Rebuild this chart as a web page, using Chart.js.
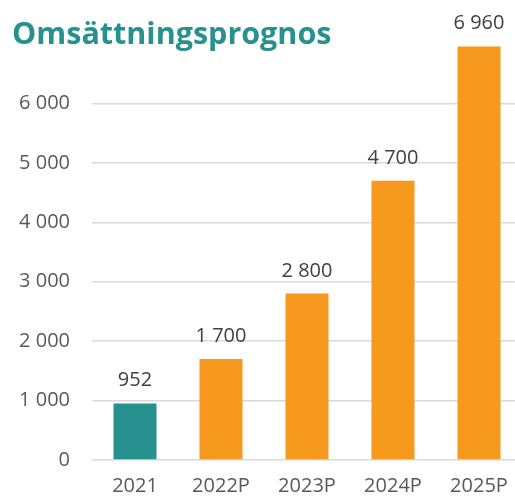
<!DOCTYPE html>
<html>
<head>
<meta charset="utf-8">
<script src="https://cdn.jsdelivr.net/npm/chart.js@4"></script>
<style>
  html, body { margin: 0; padding: 0; background: #fff; overflow: hidden; }
  #wrap { position: relative; width: 515px; height: 500px; overflow: hidden; }
  #title {
    position: absolute; left: 12px; top: 12px;
    font-family: "Open Sans", sans-serif; font-weight: 700; font-size: 30.5px;
    line-height: 1.362; color: #26918f; z-index: 2; white-space: nowrap;
  }
  #chart { position: absolute; left: 0; top: 0; }
</style>
</head>
<body>
<div id="wrap">
  <div id="title">Omsättningsprognos</div>
  <canvas id="chart" width="522" height="500"></canvas>
</div>
<script>
// data --------
const years = ["2021", "2022P", "2023P", "2024P", "2025P"];
const revenue = [952, 1700, 2800, 4700, 6960];
const barColors = ["#26918f", "#f7981f", "#f7981f", "#f7981f", "#f7981f"];
const yTicks = [0, 1000, 2000, 3000, 4000, 5000, 6000];

const fmt = (v) => String(v).replace(/\B(?=(\d{3})+(?!\d))/g, " ");

// value labels above bars
const valueLabels = {
    id: "valueLabels",
    afterDatasetsDraw(chart) {
        const ctx = chart.ctx;
        const meta = chart.getDatasetMeta(0);
        ctx.save();
        ctx.font = "20px 'Open Sans', sans-serif";
        ctx.fillStyle = "#404040";
        ctx.textAlign = "center";
        ctx.textBaseline = "alphabetic";
        meta.data.forEach((bar, i) => {
            ctx.fillText(fmt(revenue[i]), bar.x, bar.y - 17);
        });
        ctx.restore();
    },
};

new Chart(document.getElementById("chart"), {
    type: "bar",
    data: {
        labels: years,
        datasets: [
            {
                data: revenue,
                backgroundColor: barColors,
                borderWidth: 0,
                barPercentage: 0.5,
                categoryPercentage: 1,
            },
        ],
    },
    options: {
        responsive: false,
        animation: false,
        devicePixelRatio: 1,
        layout: { padding: { top: 44, right: 0, left: 0, bottom: 0 } },
        plugins: {
            legend: { display: false },
            tooltip: { enabled: false },
        },
        scales: {
            x: {
                grid: { display: false },
                border: { display: false },
                ticks: {
                    color: "#595959",
                    font: { family: "Open Sans", size: 20 },
                    padding: 6,
                    maxRotation: 0,
                    autoSkip: false,
                },
                afterFit: (s) => { s.height = 40; },
            },
            y: {
                min: 0,
                max: 7000,
                afterBuildTicks: (s) => { s.ticks = yTicks.concat([7000]).map((v) => ({ value: v })); },
                grid: {
                    color: (c) => (c.tick && c.tick.value === 7000 ? "rgba(0,0,0,0)" : "#d9d9d9"),
                    lineWidth: 1.5,
                    drawTicks: false,
                },
                border: { display: false },
                ticks: {
                    color: "#595959",
                    font: { family: "Open Sans", size: 20 },
                    padding: 22,
                    callback: (v) => (v === 7000 ? "" : fmt(v)),
                },
                afterFit: (s) => { s.width = 92; },
            },
        },
    },
    plugins: [valueLabels],
});
</script>
</body>
</html>
